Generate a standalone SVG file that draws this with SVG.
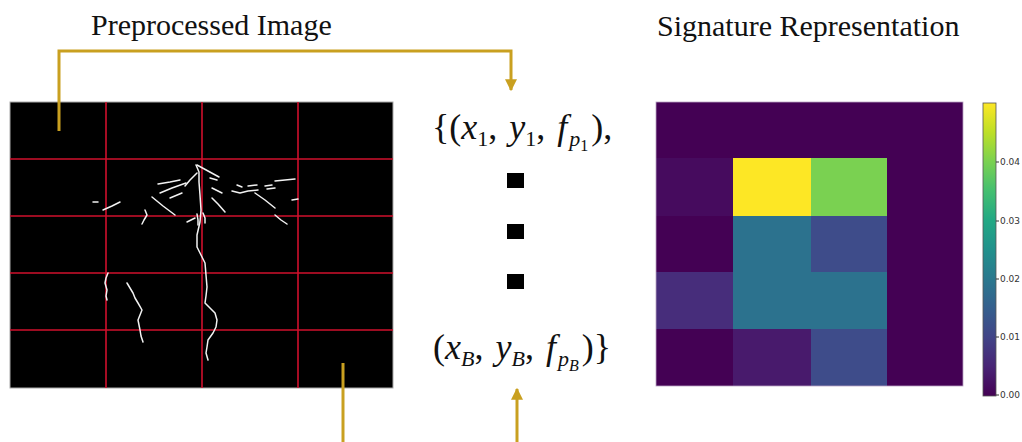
<svg xmlns="http://www.w3.org/2000/svg" width="1022" height="442" viewBox="0 0 1022 442">
<style>
.title{font-family:"Liberation Serif",serif;font-size:30px;fill:#111}
.math{font-family:"Liberation Serif",serif;font-size:36px;fill:#111}
.it{font-style:italic}
.grid{stroke:#d0102c;stroke-width:1.6}
.crack{fill:none;stroke:#f2f2f2;stroke-width:1.5;stroke-linecap:round;stroke-linejoin:round}
.conn{fill:none;stroke:#c9a020;stroke-width:3}
.tick{font-family:"DejaVu Sans",sans-serif;font-size:9px;fill:#333}
</style>
<defs>
<marker id="ah" viewBox="0 0 10 10" refX="9" refY="5" markerWidth="4" markerHeight="4" orient="auto" markerUnits="strokeWidth">
<path d="M0,0 L10,5 L0,10 z" fill="#c9a020"/>
</marker>
<linearGradient id="viridis" x1="0" y1="1" x2="0" y2="0">
<stop offset="0" stop-color="#440154"/>
<stop offset="0.1" stop-color="#482475"/>
<stop offset="0.2" stop-color="#414487"/>
<stop offset="0.3" stop-color="#355f8d"/>
<stop offset="0.4" stop-color="#2a788e"/>
<stop offset="0.5" stop-color="#21918c"/>
<stop offset="0.6" stop-color="#22a884"/>
<stop offset="0.7" stop-color="#44bf70"/>
<stop offset="0.8" stop-color="#7ad151"/>
<stop offset="0.9" stop-color="#bddf26"/>
<stop offset="1" stop-color="#fde725"/>
</linearGradient>
</defs>
<rect width="1022" height="442" fill="#fff"/>

<g id="preprocessed-image">
<text class="title" x="91" y="35">Preprocessed Image</text>
<rect x="10" y="102" width="383" height="286" fill="#000" stroke="#aaa" stroke-width="1"/>
<g class="grid">
<line x1="106" y1="102" x2="106" y2="388"/>
<line x1="202" y1="102" x2="202" y2="388"/>
<line x1="298" y1="102" x2="298" y2="388"/>
<line x1="10" y1="159" x2="393" y2="159"/>
<line x1="10" y1="216" x2="393" y2="216"/>
<line x1="10" y1="273" x2="393" y2="273"/>
<line x1="10" y1="330" x2="393" y2="330"/>
</g>
<g class="crack">
<polyline points="196,165 199,172 199,182 200,195 201,210 200,222 197,235 197,247 201,255 205,263 206,275 207,287 206,296 205,303 210,308 215,313 217,320 216,327 213,333 208,340 207,347 206,353 208,360"/>
<polyline points="197,165 208,171 219,177"/>
<polyline points="197,173 190,180 185,186"/>
<polyline points="158,184 170,182 180,180"/>
<polyline points="160,193 172,188 186,183"/>
<polyline points="170,198 182,193"/>
<polyline points="152,197 163,206 175,215"/>
<polyline points="93,202 98,202"/>
<polyline points="103,210 112,206 120,202"/>
<polyline points="145,210 147,215 144,220 142,224"/>
<polyline points="212,188 222,193"/>
<polyline points="212,198 218,204 225,212"/>
<polyline points="210,178 217,180"/>
<polyline points="237,185 242,187"/>
<polyline points="248,186 257,185"/>
<polyline points="232,191 240,193 248,191 258,190"/>
<polyline points="265,186 272,185"/>
<polyline points="267,189 275,188"/>
<polyline points="275,181 285,180 295,179"/>
<polyline points="255,193 265,200 275,208"/>
<polyline points="275,215 281,220 287,224"/>
<polyline points="292,200 298,199"/>
<polyline points="187,222 195,218"/>
<polyline points="197,214 198,220 198,225"/>
<polyline points="203,213 205,218 205,223"/>
<polyline points="108,273 106,278 105,283 107,290 106,296 107,300"/>
<polyline points="127,283 130,288 133,293 135,298 138,303 142,310 140,315 138,320 139,325 140,330 141,336 143,342"/>
</g>
</g>

<g id="signature-set">
<text class="math" x="432" y="139">{(<tspan class="it">x</tspan><tspan font-size="22" dy="7">1</tspan><tspan dy="-7">, </tspan><tspan class="it" dx="3">y</tspan><tspan font-size="22" dy="7">1</tspan><tspan dy="-7">, </tspan><tspan class="it" dx="3">f</tspan><tspan class="it" font-size="22" dy="7" dx="2">p</tspan><tspan font-size="16" dy="5">1</tspan><tspan dy="-12" dx="3">),</tspan></text>
<rect x="507" y="173" width="17" height="15" fill="#000"/>
<rect x="507" y="224" width="17" height="15" fill="#000"/>
<rect x="507" y="274" width="17" height="15" fill="#000"/>
<text class="math" x="433" y="359">(<tspan class="it">x</tspan><tspan class="it" font-size="22" dy="7">B</tspan><tspan dy="-7">, </tspan><tspan class="it" dx="3">y</tspan><tspan class="it" font-size="22" dy="7">B</tspan><tspan dy="-7">, </tspan><tspan class="it" dx="3">f</tspan><tspan class="it" font-size="22" dy="7" dx="2">p</tspan><tspan class="it" font-size="16" dy="5">B</tspan><tspan dy="-12" dx="3">)}</tspan></text>
</g>

<g id="signature-representation">
<text class="title" x="657" y="36">Signature Representation</text>
<g>
<rect x="656" y="102" width="307" height="284" fill="#440154"/>
<rect x="656" y="158" width="77" height="58" fill="#460b5e"/>
<rect x="733" y="158" width="78" height="58" fill="#fde725"/>
<rect x="811" y="158" width="76" height="58" fill="#7ad151"/>
<rect x="733" y="216" width="78" height="56" fill="#2c728e"/>
<rect x="811" y="216" width="76" height="56" fill="#3e4c8a"/>
<rect x="656" y="272" width="77" height="57" fill="#472d7b"/>
<rect x="733" y="272" width="78" height="57" fill="#2c728e"/>
<rect x="811" y="272" width="76" height="57" fill="#2c728e"/>
<rect x="733" y="329" width="78" height="57" fill="#481a6c"/>
<rect x="811" y="329" width="76" height="57" fill="#3e4c8a"/>
<rect x="656" y="102" width="307" height="284" fill="none" stroke="#b9a3c4" stroke-width="0.8"/>
</g>
<g id="colorbar">
<rect x="983" y="103" width="13" height="293" fill="url(#viridis)" stroke="#555" stroke-width="0.8"/>
<g stroke="#333" stroke-width="1">
<line x1="996" y1="162" x2="999" y2="162"/>
<line x1="996" y1="221" x2="999" y2="221"/>
<line x1="996" y1="279" x2="999" y2="279"/>
<line x1="996" y1="337" x2="999" y2="337"/>
<line x1="996" y1="395" x2="999" y2="395"/>
</g>
<text class="tick" x="1000" y="165">0.04</text>
<text class="tick" x="1000" y="224">0.03</text>
<text class="tick" x="1000" y="282">0.02</text>
<text class="tick" x="1000" y="340">0.01</text>
<text class="tick" x="1000" y="398">0.00</text>
</g>
</g>

<g id="connectors">
<polyline class="conn" points="59,131 59,51 511,51 511,90" marker-end="url(#ah)"/>
<line class="conn" x1="343" y1="363" x2="343" y2="442"/>
<line class="conn" x1="517" y1="442" x2="517" y2="389" marker-end="url(#ah)"/>
</g>
</svg>
